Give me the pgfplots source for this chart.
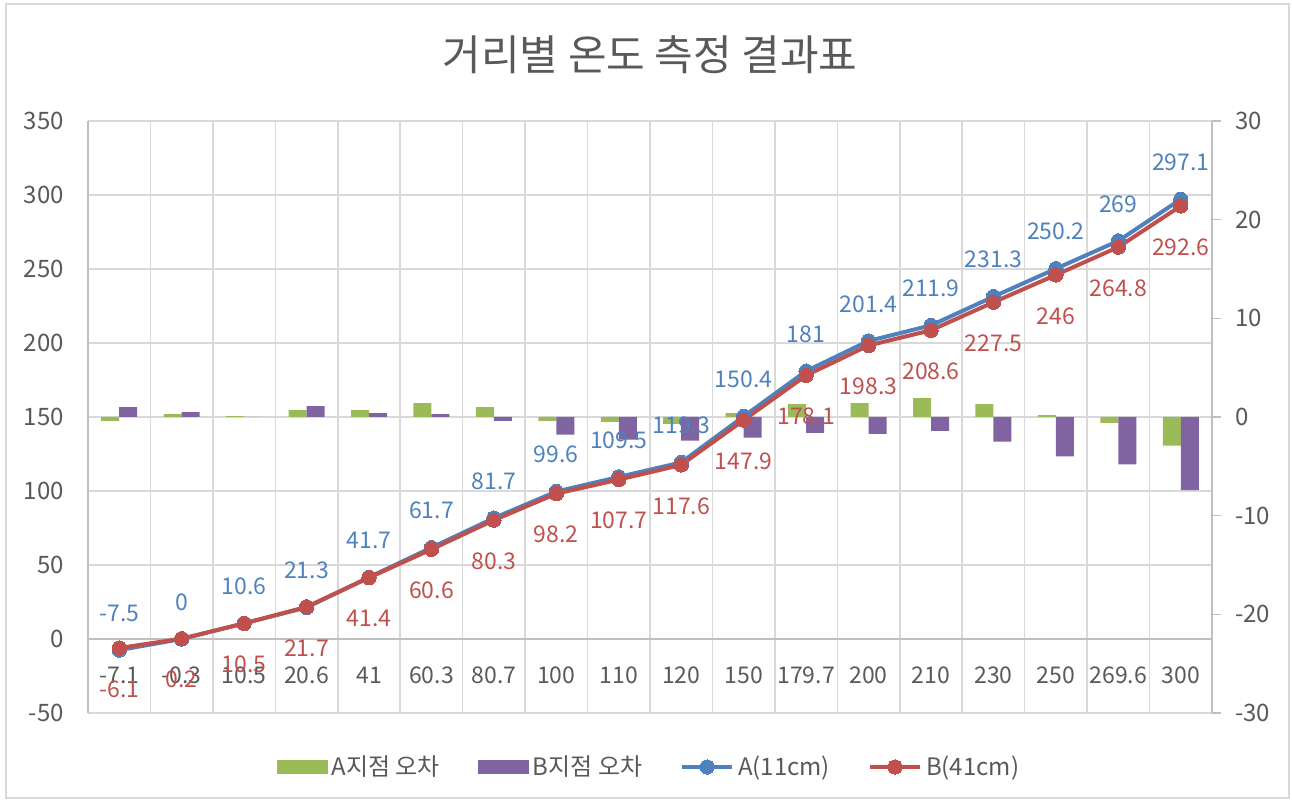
\documentclass[border=0pt]{standalone}
\usepackage{pgfplots}
\pgfplotsset{compat=1.18}
\usepackage{pgfplotstable}
\usepackage{fontspec}
\setmainfont{Noto Sans CJK KR}
\definecolor{cgreen}{HTML}{9BBB59}
\definecolor{cpurple}{HTML}{8064A2}
\definecolor{cblue}{HTML}{4F81BD}
\definecolor{cred}{HTML}{C0504D}
\definecolor{ctext}{HTML}{595959}
\definecolor{cgrid}{HTML}{D9D9D9}
\definecolor{caxis}{HTML}{BFBFBF}
\pgfplotsset{set layers,
  mylineleg/.style={legend image code/.code={\draw[mark repeat=2,mark phase=2,##1] plot coordinates {(0pt,0pt) (12.5pt,0pt) (25pt,0pt)};}}}

\pgfplotstableread{
x a b
0 -7.5 -6.1
1 0 0.2
2 10.6 10.5
3 21.3 21.7
4 41.7 41.4
5 61.7 60.6
6 81.7 80.3
7 99.6 98.2
8 109.5 107.7
9 119.3 117.6
10 150.4 147.9
11 181 178.1
12 201.4 198.3
13 211.9 208.6
14 231.3 227.5
15 250.2 246
16 269 264.8
17 297.1 292.6
}\lines

\pgfplotstableread{
x ea eb
0 -0.4 1.0
1 0.3 0.5
2 0.1 0.0
3 0.7 1.1
4 0.7 0.4
5 1.4 0.3
6 1.0 -0.4
7 -0.4 -1.8
8 -0.5 -2.3
9 -0.7 -2.4
10 0.4 -2.1
11 1.3 -1.6
12 1.4 -1.7
13 1.9 -1.4
14 1.3 -2.5
15 0.2 -4.0
16 -0.6 -4.8
17 -2.9 -7.4
}\errs

\begin{document}
\begin{tikzpicture}
\path (0pt,0pt) rectangle (646pt,401pt);
\draw[cgrid, line width=0.75pt] (3pt,2pt) rectangle (644.5pt,399pt);
\node[text=ctext, font=\fontsize{21}{25}\selectfont] at (325pt,373.5pt) {거리별 온도 측정 결과표};

% secondary axis: bars
\begin{axis}[
  at={(44pt,44.5pt)}, anchor=south west,
  scale only axis, width=562pt, height=296pt,
  xmin=-0.5, xmax=17.5, ymin=-30, ymax=30,
  axis x line=none, axis y line*=right,
  ytick={-30,-20,...,30},
  y axis line style={caxis, line width=0.75pt},
  ytick style={caxis, line width=0.75pt},
  tick align=outside, major tick length=4.5pt,
  yticklabel style={text=ctext, font=\fontsize{12}{14}\selectfont, xshift=3.5pt},
  /pgf/number format/assume math mode=true,
  ybar=0pt, bar width=9pt,
]
\addplot[fill=cgreen, draw=none] table[x=x, y=ea]{\errs};
\addplot[fill=cpurple, draw=none] table[x=x, y=eb]{\errs};
\end{axis}

% primary axis: lines
\begin{axis}[
  at={(44pt,44.5pt)}, anchor=south west,
  scale only axis, width=562pt, height=296pt,
  xmin=-0.5, xmax=17.5, ymin=-50, ymax=350,
  axis x line*=bottom, axis y line*=left,
  x axis line style={draw=none},
  y axis line style={caxis, line width=0.75pt},
  xtick={0,...,17},
  xticklabels={-7.1,-0.3,10.5,20.6,41,60.3,80.7,100,110,120,150,179.7,200,210,230,250,269.6,300},
  minor xtick={-0.5,0.5,...,17.5},
  xminorgrids, ymajorgrids,
  grid style={cgrid, line width=0.75pt},
  minor grid style={cgrid, line width=0.75pt},
  ytick={-50,0,...,350},
  extra y ticks={0}, extra y tick labels={},
  extra y tick style={grid style={caxis, line width=0.75pt}},
  major tick length=0pt, minor tick length=0pt,
  tick style={draw=none},
  xticklabel style={text=ctext, font=\fontsize{11.5}{13}\selectfont, anchor=center, yshift=19pt},
  yticklabel style={text=ctext, font=\fontsize{12}{14}\selectfont, xshift=-8.5pt},
  /pgf/number format/assume math mode=true,
  legend style={at={(0.5,-0.0912)}, anchor=center, draw=none, fill=none,
    legend columns=4, font=\fontsize{12}{14}\selectfont, text=ctext,
    /tikz/every even column/.append style={column sep=17pt}},
  legend cell align=left,
]
\addlegendimage{legend image code/.code={\fill[cgreen] (0pt,-3.25pt) rectangle (25pt,3.25pt);}}
\addlegendentry{A지점 오차}
\addlegendimage{legend image code/.code={\fill[cpurple] (0pt,-3.25pt) rectangle (25pt,3.25pt);}}
\addlegendentry{B지점 오차}
\addplot[cblue, line width=2pt, mark=*, mark size=3.6pt,
  mark options={fill=cblue, draw=cblue, line width=0pt},
  nodes near coords, point meta=explicit symbolic,
  every node near coord/.append style={text=cblue, anchor=center, yshift=18.5pt, font=\fontsize{11.5}{13}\selectfont},
  mylineleg
  ] table[x=x, y=a, meta=a]{\lines};
\addlegendentry{A(11cm)}
\addplot[cred, line width=2pt, mark=*, mark size=3.6pt,
  mark options={fill=cred, draw=cred, line width=0pt},
  nodes near coords, point meta=explicit symbolic,
  every node near coord/.append style={text=cred, anchor=center, yshift=-20.5pt, font=\fontsize{11.5}{13}\selectfont},
  mylineleg
  ] table[x=x, y=b, meta=b]{\lines};
\addlegendentry{B(41cm)}
\end{axis}
\end{tikzpicture}
\end{document}
